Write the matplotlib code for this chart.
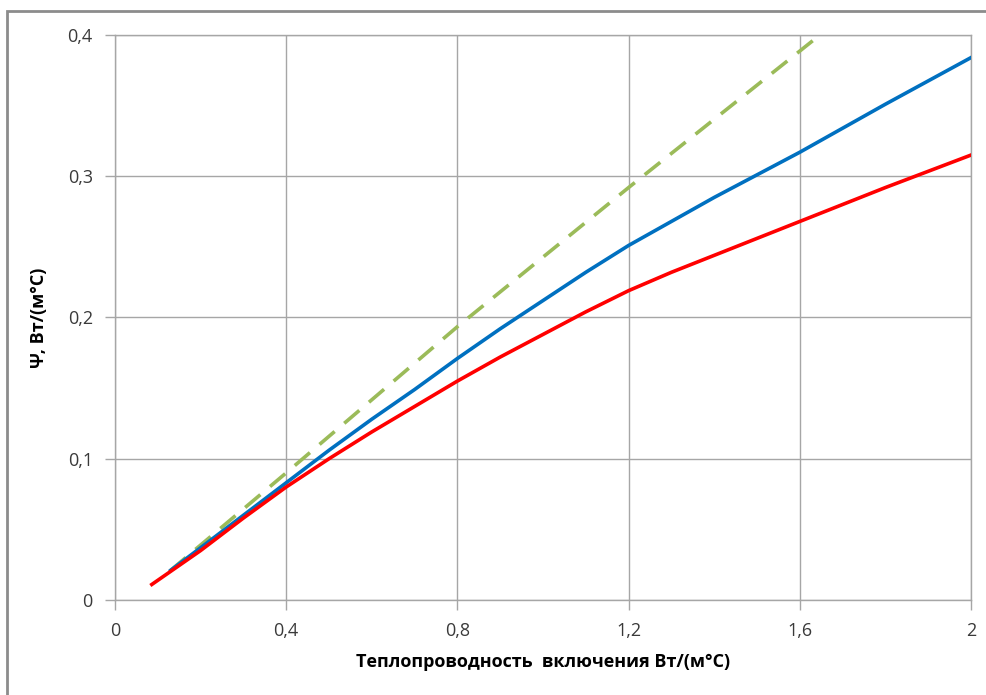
import matplotlib
matplotlib.use("Agg")
import matplotlib.pyplot as plt
from matplotlib.patches import Rectangle

# data
x_red = [0.086, 0.2, 0.3, 0.4, 0.5, 0.6, 0.7, 0.8, 0.9, 1.0, 1.1, 1.2, 1.3, 1.4, 1.5, 1.6, 1.8, 2.0]
y_red = [0.011, 0.035, 0.058, 0.080, 0.100, 0.119, 0.137, 0.155, 0.172, 0.188, 0.204, 0.219, 0.232, 0.244, 0.256, 0.268, 0.292, 0.315]
x_blue = [0.13, 0.2, 0.3, 0.4, 0.5, 0.6, 0.7, 0.8, 0.9, 1.0, 1.1, 1.2, 1.3, 1.4, 1.5, 1.6, 1.8, 2.0]
y_blue = [0.021, 0.037, 0.060, 0.083, 0.106, 0.128, 0.149, 0.171, 0.192, 0.212, 0.232, 0.251, 0.268, 0.285, 0.301, 0.317, 0.351, 0.384]
x_green = [0.13, 0.4, 0.8, 1.2, 1.647, 1.7]
y_green = [0.021, 0.090, 0.1935, 0.292, 0.400, 0.413]

xticks = [0, 0.4, 0.8, 1.2, 1.6, 2]
xtick_labels = ["0", "0,4", "0,8", "1,2", "1,6", "2"]
yticks = [0, 0.1, 0.2, 0.3, 0.4]
ytick_labels = ["0", "0,1", "0,2", "0,3", "0,4"]

plt.rcParams['font.family'] = ['Open Sans', 'DejaVu Sans']
fig = plt.figure(figsize=(9.87, 6.95), dpi=100)
ax = fig.add_axes([115/987, 1 - 600/695, 856/987, 565/695])

grey = "#a6a6a6"
ax.plot(x_green, y_green, color="#9bbb59", lw=2.6, dashes=(5.5, 3.5), zorder=3)
ax.plot(x_blue, y_blue, color="#0070c0", lw=2.6, zorder=4)
ax.plot(x_red, y_red, color="#ff0000", lw=2.6, zorder=5)

ax.set_xlim(0, 2)
ax.set_ylim(0, 0.4)
ax.set_xticks(xticks)
ax.set_xticklabels(xtick_labels)
ax.set_yticks(yticks)
ax.set_yticklabels(ytick_labels)
ax.grid(True, color=grey, lw=1)
ax.set_axisbelow(True)
for s in ax.spines.values():
    s.set_color(grey)
    s.set_linewidth(1)
ax.tick_params(length=7, width=1, color=grey, labelsize=13, labelcolor="#3a3a3a", pad=9)

ax.set_xlabel("Теплопроводность  включения Вт/(м°С)", fontsize=13, fontweight="bold", labelpad=9)
ax.set_ylabel("Ψ, Вт/(м°С)", fontsize=13, fontweight="bold", labelpad=14)

# outer frame
fig.patches.append(Rectangle((7/987, -0.2), 1.2, 1.2 - 11/695, transform=fig.transFigure,
                             fill=False, edgecolor="#8c8c8c", lw=2))

fig.savefig("out.png", dpi=100)
